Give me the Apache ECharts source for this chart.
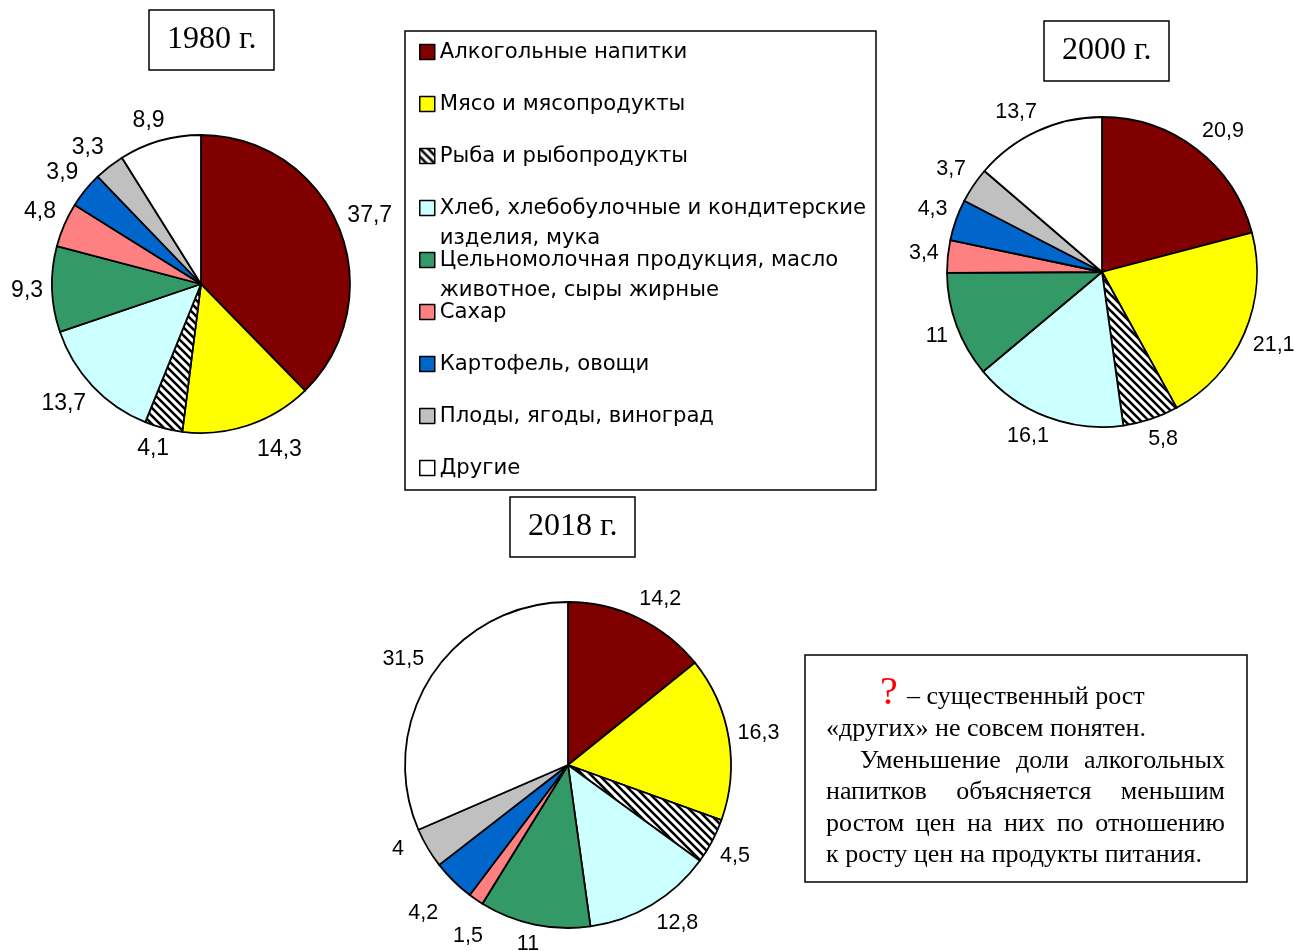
<!DOCTYPE html>
<html>
<head>
<meta charset="utf-8">
<script src="https://cdn.jsdelivr.net/npm/echarts@6/dist/echarts.min.js"></script>
<style>
  html, body { margin: 0; padding: 0; background: #fff; }
  #chart { width: 1295px; height: 951px; }
</style>
</head>
<body>
<div id="chart"></div>
<script>
// категории (порядок легенды и секторов)
var categories = [
  'Алкогольные напитки',
  'Мясо и мясопродукты',
  'Рыба и рыбопродукты',
  'Хлеб, хлебобулочные и кондитерские\nизделия, мука',
  'Цельномолочная продукция, масло\nживотное, сыры жирные',
  'Сахар',
  'Картофель, овощи',
  'Плоды, ягоды, виноград',
  'Другие'
];
var values1980 = [37.7, 14.3, 4.1, 13.7, 9.3, 4.8, 3.9, 3.3, 8.9];
var values2000 = [20.9, 21.1, 5.8, 16.1, 11, 3.4, 4.3, 3.7, 13.7];
var values2018 = [14.2, 16.3, 4.5, 12.8, 11, 1.5, 4.2, 4, 31.5];
var years = ['1980 г.', '2000 г.', '2018 г.'];

var noteLines = [
  '– существенный рост',
  '«других» не совсем понятен.',
  'Уменьшение доли алкогольных',
  'напитков объясняется меньшим',
  'ростом цен на них по отношению',
  'к росту цен на продукты питания.'
];

// подписи, которые в оригинале раздвинуты вручную: [серия, сектор, dx, dy]
var labelNudges = [
  [0, 1, 14, 4],
  [2, 5, 12, 18],
  [2, 6, -9, 15],
  [2, 7, -16, -14]
];

// штриховка для рыбы
var hatch = document.createElement('canvas');
hatch.width = 8; hatch.height = 8;
var hc = hatch.getContext('2d');
hc.fillStyle = '#fff';
hc.fillRect(0, 0, 8, 8);
hc.strokeStyle = '#000';
hc.lineWidth = 2.6;
[-8, 0, 8].forEach(function (k) {
  hc.beginPath();
  hc.moveTo(k - 1, -1);
  hc.lineTo(k + 9, 9);
  hc.stroke();
});

var colors = ['#800000', '#ffff00', { image: hatch, repeat: 'repeat' }, '#ccffff',
  '#339966', '#ff8080', '#0066cc', '#c0c0c0', '#ffffff'];

var chart = echarts.init(document.getElementById('chart'));

function fmt(v) {
  return String(v).replace('.', ',');
}

function makeData(values) {
  return values.map(function (v, i) {
    return { name: categories[i], value: v, itemStyle: { color: colors[i] } };
  });
}

function clamp1(v) {
  return Math.max(-1, Math.min(1, v));
}

function nudgeFor(s, i) {
  for (var k = 0; k < labelNudges.length; k++) {
    if (labelNudges[k][0] === s && labelNudges[k][1] === i) return labelNudges[k].slice(2);
  }
  return [0, 0];
}

// подписи за краем круга, по биссектрисе сектора (как в Excel)
function labelLayoutFor(seriesIdx, values, cx, cy, r) {
  var total = values.reduce(function (a, b) { return a + b; }, 0);
  return function (p) {
    var before = 0;
    for (var i = 0; i < p.dataIndex; i++) before += values[i];
    var a = (before + values[p.dataIndex] / 2) / total * 2 * Math.PI;
    var dx = Math.sin(a), dy = -Math.cos(a);
    var w = p.labelRect.width, h = p.labelRect.height;
    var d = r + 9;
    var n = nudgeFor(seriesIdx, p.dataIndex);
    return {
      x: cx + dx * d + clamp1(2 * dx) * w / 2 + n[0],
      y: cy + dy * d + clamp1(2 * dy) * h / 2 + n[1],
      align: 'center',
      verticalAlign: 'middle'
    };
  };
}

function pieSeries(seriesIdx, values, cx, cy, r, fontSize) {
  return {
    type: 'pie',
    center: [cx, cy],
    radius: r,
    startAngle: 90,
    clockwise: true,
    silent: true,
    avoidLabelOverlap: false,
    data: makeData(values),
    itemStyle: { borderColor: '#000', borderWidth: 1.8 },
    label: {
      show: true,
      position: 'outside',
      formatter: function (p) { return fmt(p.value); },
      fontFamily: 'Liberation Sans',
      fontSize: fontSize,
      color: '#000'
    },
    labelLine: { show: false },
    labelLayout: labelLayoutFor(seriesIdx, values, cx, cy, r),
    emphasis: { disabled: true }
  };
}

// выравнивание строки по ширине
var mctx = document.createElement('canvas').getContext('2d');
var noteFont = '26px "Liberation Serif"';
function textLine(text, x0, x1, y, justify) {
  mctx.font = noteFont;
  var words = justify ? text.split(' ') : [text];
  var widths = words.map(function (w) { return mctx.measureText(w).width; });
  var used = widths.reduce(function (a, b) { return a + b; }, 0);
  var gap = words.length > 1 ? (x1 - x0 - used) / (words.length - 1) : 0;
  var x = x0;
  return words.map(function (w, i) {
    var el = {
      type: 'text', x: x, y: y,
      style: { text: w, font: noteFont, fill: '#000', align: 'left', verticalAlign: 'middle' }
    };
    x += widths[i] + gap;
    return el;
  });
}

var titleStyle = { fontFamily: 'Liberation Serif', fontSize: 32, fontWeight: 'normal', color: '#000' };
function yearTitle(text, left, top) {
  return {
    text: text, left: left, top: top,
    padding: [14, 18],
    borderColor: '#000', borderWidth: 1.5,
    textStyle: titleStyle
  };
}

var noteElements = [
  {
    type: 'rect',
    shape: { x: 805, y: 655, width: 442, height: 227 },
    style: { fill: '#fff', stroke: '#000', lineWidth: 1.5 }
  },
  {
    type: 'text', x: 880, y: 693,
    style: { text: '?', font: '40px "Liberation Serif"', fill: '#ff0000', align: 'left', verticalAlign: 'middle' }
  }
].concat(
  textLine(noteLines[0], 907, 1150, 697, false),
  textLine(noteLines[1], 826, 1143, 729, false),
  textLine(noteLines[2], 860, 1225, 761, true),
  textLine(noteLines[3], 826, 1225, 792, true),
  textLine(noteLines[4], 826, 1225, 824, true),
  textLine(noteLines[5], 826, 1225, 855, false)
);

// рамка легенды
var legendBox = {
  type: 'rect',
  shape: { x: 405, y: 31, width: 471, height: 459 },
  style: { fill: 'none', stroke: '#000', lineWidth: 1.5 }
};

chart.setOption({
  animation: false,
  backgroundColor: '#fff',
  title: [
    yearTitle(years[0], 149, 10),
    yearTitle(years[1], 1044, 21),
    yearTitle(years[2], 510, 497)
  ],
  legend: {
    orient: 'vertical',
    left: 419,
    top: 37,
    padding: 0,
    itemGap: -8,
    itemWidth: 15,
    itemHeight: 45,
    // квадрат в верхней трети, чтобы он стоял у первой строки подписи
    icon: 'path://M0,0H15V15H0ZM0,45',
    selectedMode: false,
    itemStyle: { borderColor: '#000', borderWidth: 1.5 },
    // каждая строка легенды занимает две строки текста, чтобы шаг был одинаковым
    formatter: function (name) {
      return name.indexOf('\n') >= 0 ? name : name + '\n ';
    },
    textStyle: { fontFamily: 'DejaVu Sans', fontSize: 21.2, color: '#000', lineHeight: 30 },
    data: categories
  },
  series: [
    pieSeries(0, values1980, 201, 284, 149, 23),
    pieSeries(1, values2000, 1102, 272, 155, 21.5),
    pieSeries(2, values2018, 568, 765, 163, 21.5)
  ],
  graphic: noteElements.concat([
    legendBox,
    {
      type: 'text', x: 485, y: 718,
      style: { text: '?', font: '40px "Liberation Serif"', fill: '#ff0000', align: 'center', verticalAlign: 'middle' }
    }
  ])
});
</script>
</body>
</html>
